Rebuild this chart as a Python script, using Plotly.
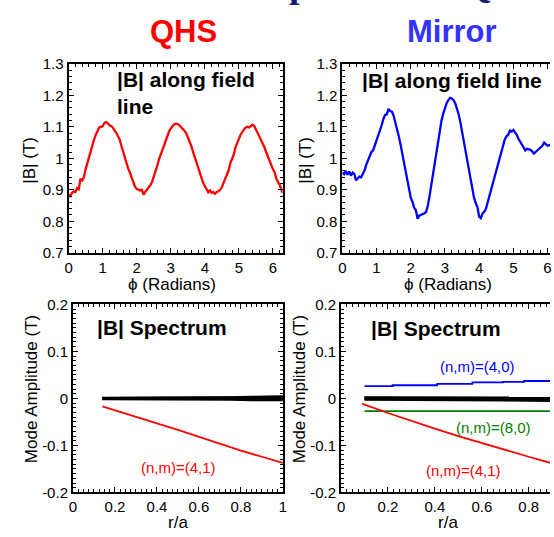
import plotly.graph_objects as go

# ---------------- data ----------------
qhs_phi = [0.00,0.05,0.10,0.15,0.20,0.25,0.30,0.35,0.40,0.45,0.50,0.55,0.60,0.65,0.70,0.75,0.80,0.85,0.90,0.95,
           1.00,1.05,1.10,1.15,1.20,1.25,1.30,1.35,1.40,1.45,1.50,1.55,1.60,1.65,1.70,1.75,1.80,1.85,1.90,1.95,
           2.00,2.05,2.10,2.15,2.20,2.25,2.30,2.35,2.40,2.45,2.50,2.55,2.60,2.65,2.70,2.75,2.80,2.85,2.90,2.95,
           3.00,3.05,3.10,3.15,3.20,3.25,3.30,3.35,3.40,3.45,3.50,3.55,3.60,3.65,3.70,3.75,3.80,3.85,3.90,3.95,
           4.00,4.05,4.10,4.15,4.20,4.25,4.30,4.35,4.40,4.45,4.50,4.55,4.60,4.65,4.70,4.75,4.80,4.85,4.90,4.95,
           5.00,5.05,5.10,5.15,5.20,5.25,5.30,5.35,5.40,5.45,5.50,5.55,5.60,5.65,5.70,5.75,5.80,5.85,5.90,5.95,
           6.00,6.05,6.10,6.15,6.20,6.25,6.283]
qhs_B = [0.885,0.880,0.890,0.895,0.893,0.905,0.902,0.935,0.930,0.940,0.965,0.985,1.000,1.020,1.045,1.060,1.075,1.090,1.098,1.100,
         1.102,1.112,1.115,1.112,1.105,1.103,1.098,1.088,1.082,1.070,1.060,1.040,1.020,1.005,0.985,0.968,0.955,0.938,0.922,0.910,
         0.903,0.900,0.898,0.900,0.885,0.893,0.900,0.905,0.915,0.925,0.940,0.960,0.975,0.995,1.010,1.030,1.045,1.060,1.072,1.085,
         1.095,1.103,1.108,1.110,1.109,1.105,1.100,1.095,1.088,1.080,1.068,1.055,1.040,1.022,1.005,0.985,0.968,0.950,0.935,0.922,
         0.912,0.900,0.892,0.898,0.890,0.893,0.887,0.893,0.895,0.900,0.908,0.922,0.935,0.950,0.962,0.985,1.000,1.012,1.035,1.052,
         1.062,1.075,1.085,1.092,1.098,1.100,1.098,1.102,1.107,1.103,1.092,1.082,1.072,1.060,1.045,1.035,1.020,1.005,0.990,0.980,
         0.965,0.955,0.935,0.925,0.915,0.900,0.890]

mir_phi = [0.00,0.05,0.10,0.15,0.20,0.25,0.30,0.35,0.40,0.45,0.50,0.55,0.60,0.65,0.70,0.75,0.80,0.85,0.90,0.95,
           1.00,1.05,1.10,1.15,1.20,1.25,1.30,1.35,1.40,1.45,1.50,1.55,1.60,1.65,1.70,1.75,1.80,1.85,1.90,1.95,
           2.00,2.05,2.10,2.15,2.20,2.25,2.30,2.35,2.40,2.45,2.50,2.55,2.60,2.65,2.70,2.75,2.80,2.85,2.90,2.95,
           3.00,3.05,3.10,3.15,3.20,3.25,3.30,3.35,3.40,3.45,3.50,3.55,3.60,3.65,3.70,3.75,3.80,3.85,3.90,3.95,
           4.00,4.05,4.10,4.15,4.20,4.25,4.30,4.35,4.40,4.45,4.50,4.55,4.60,4.65,4.70,4.75,4.80,4.85,4.90,4.95,
           5.00,5.05,5.10,5.15,5.20,5.25,5.30,5.35,5.40,5.45,5.50,5.55,5.60,5.65,5.70,5.75,5.80,5.85,5.90,5.95,
           6.00,6.05,6.10,6.20,6.283]
mir_B = [0.955,0.950,0.960,0.948,0.958,0.945,0.955,0.950,0.930,0.938,0.942,0.940,0.950,0.962,0.980,0.995,1.005,1.020,1.025,1.040,
         1.060,1.075,1.090,1.105,1.125,1.138,1.140,1.157,1.150,1.148,1.135,1.115,1.095,1.070,1.045,1.018,0.990,0.960,0.930,0.900,
         0.875,0.862,0.843,0.835,0.808,0.818,0.820,0.822,0.825,0.830,0.850,0.880,0.915,0.955,0.995,1.030,1.065,1.095,1.120,1.142,
         1.160,1.175,1.185,1.192,1.190,1.185,1.175,1.160,1.140,1.115,1.085,1.055,1.025,0.990,0.960,0.930,0.900,0.875,0.858,0.845,
         0.815,0.810,0.825,0.830,0.840,0.860,0.885,0.900,0.920,0.945,0.960,0.980,1.005,1.025,1.045,1.060,1.070,1.075,1.088,1.085,
         1.090,1.082,1.075,1.062,1.052,1.045,1.030,1.025,1.030,1.028,1.027,1.022,1.015,1.020,1.025,1.033,1.035,1.040,1.050,1.045,
         1.040,1.042,1.040,1.040,1.045]

# QHS spectrum
qhs_r = [0.14,0.2,0.3,0.4,0.5,0.6,0.7,0.8,0.9,1.0]
qhs_41 = [-0.017,-0.025,-0.039,-0.053,-0.067,-0.082,-0.097,-0.111,-0.124,-0.137]
qhs_bg_r = [0.14,0.3,0.5,0.7,0.75,0.85,1.0]
qhs_bg = [
    [0.0,0.0,0.0,0.0,0.0,0.0,0.0],
    [0.001,0.001,0.001,0.001,0.002,0.003,0.004],
    [-0.001,-0.001,-0.001,-0.001,-0.002,-0.003,-0.003],
    [0.0005,0.0005,0.001,0.001,0.001,0.002,0.002],
]

# Mirror spectrum
mir_r = [0.09,0.1,0.2,0.3,0.4,0.5,0.6,0.7,0.8,0.9,1.0]
mir_41 = [-0.011,-0.013,-0.031,-0.048,-0.064,-0.080,-0.095,-0.110,-0.124,-0.138,-0.150]
mir_40_r = [0.10,0.22,0.41,0.56,0.69,0.78,1.0]
mir_40 = [0.026,0.028,0.031,0.034,0.035,0.037,0.037]
mir_80_r = [0.10,1.0]
mir_80 = [-0.027,-0.027]
mir_bg_r = [0.10,0.3,0.5,0.7,0.9,1.0]
mir_bg = [
    [0.0,0.0,0.0,-0.001,-0.001,-0.001],
    [0.002,0.002,0.002,0.001,0.001,0.001],
    [-0.002,-0.002,-0.003,-0.004,-0.005,-0.005],
    [0.001,0.001,0.0,0.0,-0.002,-0.002],
]

top_yticks = [0.7,0.8,0.9,1.0,1.1,1.2,1.3]
top_yticktext = ["0.7","0.8","0.9","1","1.1","1.2","1.3"]
top_xticks = [0,1,2,3,4,5,6]
bot_yticks = [-0.2,-0.1,0,0.1,0.2]
bot_yticktext = ["-0.2","-0.1","0","0.1","0.2"]
bot_xticks = [0,0.2,0.4,0.6,0.8,1.0]
bot_xticktext = ["0","0.2","0.4","0.6","0.8","1"]

# ---------------- figure ----------------
W, H = 554, 537
FONT = "Liberation Sans, Arial, sans-serif"

fig = go.Figure()
fig.add_trace(go.Scatter(x=qhs_phi, y=qhs_B, mode="lines", line=dict(color="#ff0000", width=2.3),
                         xaxis="x", yaxis="y", showlegend=False))
fig.add_trace(go.Scatter(x=mir_phi, y=mir_B, mode="lines", line=dict(color="#0000ff", width=2.3),
                         xaxis="x2", yaxis="y2", showlegend=False))
for b in qhs_bg:
    fig.add_trace(go.Scatter(x=qhs_bg_r, y=b, mode="lines", line=dict(color="black", width=2.6),
                             xaxis="x3", yaxis="y3", showlegend=False))
fig.add_trace(go.Scatter(x=qhs_r, y=qhs_41, mode="lines", line=dict(color="#ff0000", width=1.8),
                         xaxis="x3", yaxis="y3", showlegend=False))
for b in mir_bg:
    fig.add_trace(go.Scatter(x=mir_bg_r, y=b, mode="lines", line=dict(color="black", width=2.6),
                             xaxis="x4", yaxis="y4", showlegend=False))
fig.add_trace(go.Scatter(x=mir_40_r, y=mir_40, mode="lines", line=dict(color="#0000ff", width=1.8, shape="hv"),
                         xaxis="x4", yaxis="y4", showlegend=False))
fig.add_trace(go.Scatter(x=mir_80_r, y=mir_80, mode="lines", line=dict(color="#008000", width=1.8),
                         xaxis="x4", yaxis="y4", showlegend=False))
fig.add_trace(go.Scatter(x=mir_r, y=mir_41, mode="lines", line=dict(color="#ff0000", width=1.8),
                         xaxis="x4", yaxis="y4", showlegend=False))


def px_x(a, b):
    return [a / W, min(b / W, 1.0)]


def px_y(top, bottom):
    return [1 - bottom / H, 1 - top / H]


def axis(domain, rng, anchor, mirror, tickvals, ticktext, minor_dtick):
    return dict(domain=domain, range=rng, anchor=anchor, showgrid=False, zeroline=False,
                showline=True, linecolor="black", linewidth=2, mirror=mirror,
                ticks="inside", ticklen=5, tickwidth=1, tickcolor="black",
                tickvals=tickvals, ticktext=ticktext, ticklabeloverflow="allow",
                minor=dict(dtick=minor_dtick, tick0=0, ticks="inside", ticklen=3, tickwidth=1,
                           tickcolor="black", showgrid=False),
                tickfont=dict(family=FONT, size=15, color="black"))


top_xr = [0, 6.2832]
fig.update_layout(
    width=W, height=H, margin=dict(l=0, r=0, t=0, b=0),
    paper_bgcolor="white", plot_bgcolor="white",
    xaxis=axis(px_x(65.5, 282.7), top_xr, "y", "ticks", top_xticks, [str(v) for v in top_xticks], 0.2),
    yaxis=axis(px_y(56.7, 251.7), [0.7, 1.3], "x", "ticks", top_yticks, top_yticktext, 0.02),
    xaxis2=axis(px_x(343.3, 554), [0, (554 - 343.3) / 34.7], "y2", "ticks", top_xticks, [str(v) for v in top_xticks], 0.2),
    yaxis2=axis(px_y(56.7, 251.7), [0.7, 1.3], "x2", False, top_yticks, top_yticktext, 0.02),
    xaxis3=axis(px_x(70, 283), [0, 1], "y3", "ticks", bot_xticks, bot_xticktext, 0.025),
    yaxis3=axis(px_y(305, 499.3), [-0.2, 0.2], "x3", "ticks", bot_yticks, bot_yticktext, 0.01),
    xaxis4=axis(px_x(342, 554), [0, (554 - 342) / 238.0], "y4", "ticks", bot_xticks, bot_xticktext, 0.025),
    yaxis4=axis(px_y(305, 499.3), [-0.2, 0.2], "x4", False, bot_yticks, bot_yticktext, 0.01),
)


def ann(text, x, y, size, color="black", bold=False, xanchor="center", yanchor="middle", angle=0,
        family=FONT, align="center"):
    t = f"<b>{text}</b>" if bold else text
    fig.add_annotation(text=t, x=x / W, y=1 - y / H, xref="paper", yref="paper", showarrow=False,
                       xanchor=xanchor, yanchor=yanchor, textangle=angle, align=align,
                       font=dict(family=family, size=size, color=color))


# partially visible slide title at top (only its lowest strokes show)
ann("Comparison of QHS", 208, -26, 38, color="#1c1c78", bold=True, xanchor="left",
    family="Liberation Serif, Times New Roman, serif")
ann("QHS", 182, 23, 31, color="#ff0000", bold=True)
ann("Mirror", 455, 23, 31, color="#3333ff", bold=True)

ann("|B| along field<br>line", 113, 87, 21, bold=True, xanchor="left", align="left")
ann("|B| along field line", 361, 74, 21, bold=True, xanchor="left", align="left")
ann("|B| Spectrum", 92, 329, 21, bold=True, xanchor="left")
ann("|B| Spectrum", 370, 330, 21, bold=True, xanchor="left")

ann("(n,m)=(4,1)", 177, 474, 15, color="#ff0000")
ann("(n,m)=(4,0)", 480, 369, 15, color="#0000ff")
ann("(n,m)=(8,0)", 497, 432, 15, color="#008000")
ann("(n,m)=(4,1)", 466, 477, 15, color="#ff0000")

ann("|B| (T)", 25, 156, 17, angle=-90)
ann("|B| (T)", 305, 156, 17, angle=-90)
ann("\u03d5 (Radians)", 170, 284, 17)
ann("\u03d5 (Radians)", 450, 284, 17)
ann("Mode Amplitude (T)", 28, 393, 17, angle=-90)
ann("Mode Amplitude (T)", 300, 393, 17, angle=-90)
ann("r/a", 177, 530, 17)
ann("r/a", 450, 530, 17)

fig.write_html("out.html")
